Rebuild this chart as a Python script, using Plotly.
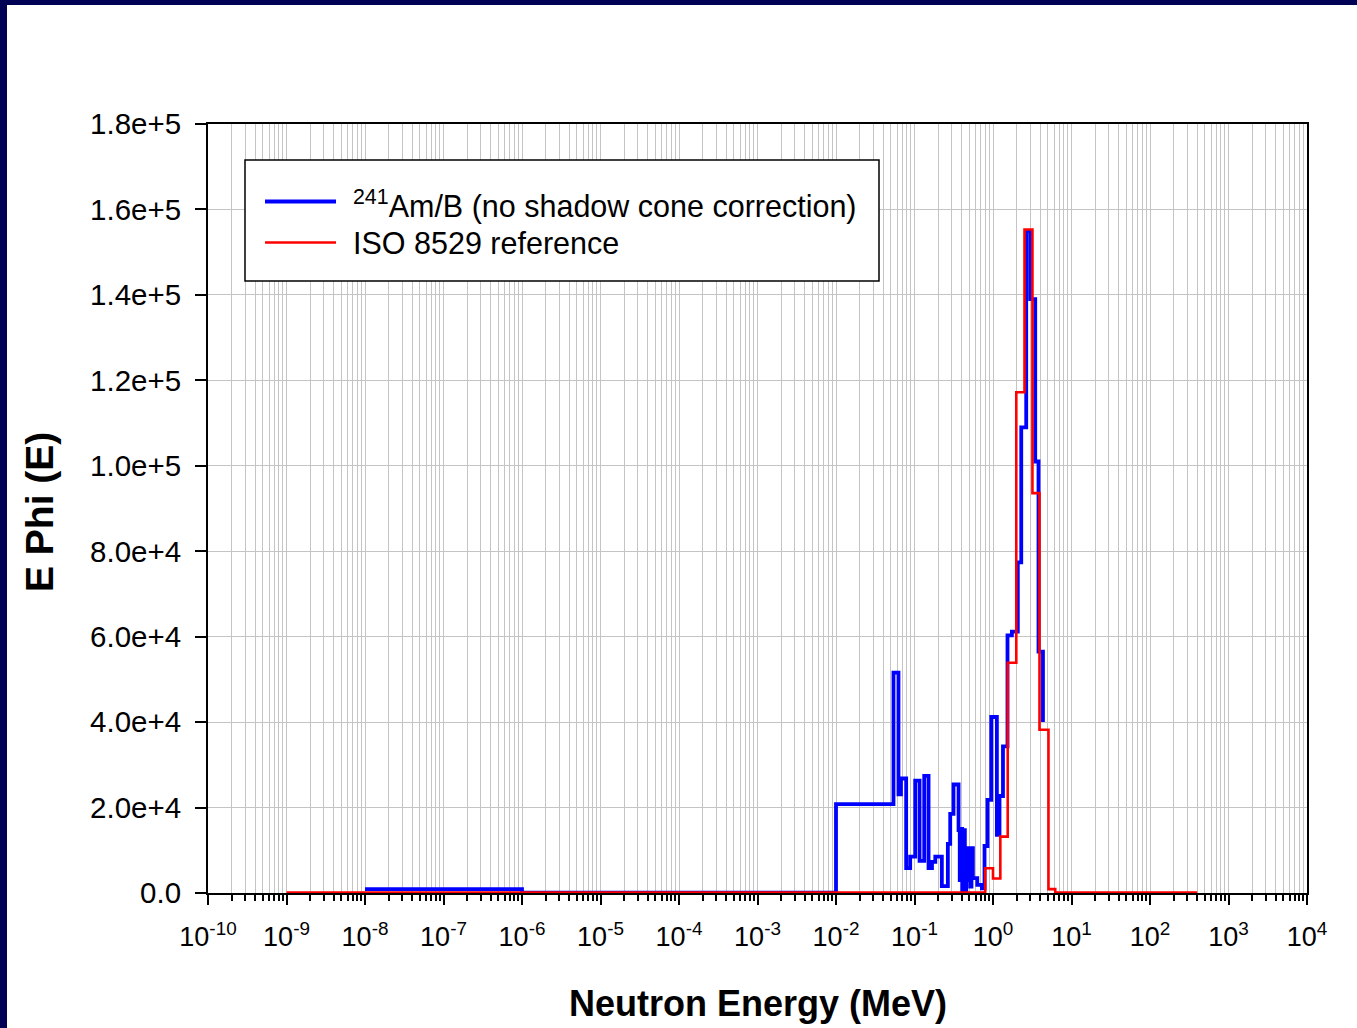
import plotly.graph_objects as go

# ---------------- data ----------------
# 241Am/B spectrum: bin lower edges (MeV) and E*Phi(E) values (hv steps)
blue_energy = [1e-8, 1e-6, 1e-2, 0.0540, 0.0625, 0.0672, 0.0783, 0.0881, 0.102,
               0.116, 0.133, 0.151, 0.167, 0.184, 0.223, 0.266, 0.285, 0.314,
               0.364, 0.377, 0.390, 0.405, 0.421, 0.438, 0.456, 0.473, 0.493,
               0.513, 0.532, 0.554, 0.630, 0.723, 0.780, 0.851, 0.950, 1.12,
               1.21, 1.34, 1.53, 1.74, 2.07, 2.29, 2.65, 2.98, 3.45, 3.80, 4.33]
blue_ephi = [900, 100, 20800, 51600, 23100, 26800, 5800, 8500, 26300,
             7500, 27400, 5800, 7300, 8500, 1600, 11500, 18500, 25400,
             14700, 3000, 15000, 500, 14700, 300, 10500, 3000, 10500,
             1500, 10500, 3500, 1900, 1100, 11000, 21800, 41200, 13600,
             22700, 34300, 60300, 61200, 77400, 109000, 155000, 139000, 101000, 56500, 40000]

# ISO 8529 reference spectrum
red_energy = [1e-9, 0.796, 1.00, 1.24, 1.54, 1.98, 2.52, 3.18, 3.91, 5.09, 6.21, 400]
red_ephi = [100, 5800, 3400, 13200, 53900, 117200, 155300, 93600, 38200, 900, 100, 100]

x_exponents = list(range(-10, 5))
y_ticks = [0, 20000, 40000, 60000, 80000, 100000, 120000, 140000, 160000, 180000]
y_ticktext = ["0.0", "2.0e+4", "4.0e+4", "6.0e+4", "8.0e+4", "1.0e+5",
              "1.2e+5", "1.4e+5", "1.6e+5", "1.8e+5"]

legend_names = ["<sup>241</sup>Am/B (no shadow cone correction)", "ISO 8529 reference"]

# ---------------- layout geometry ----------------
W, H = 1357, 1028
L, R, T, B = 208, 50, 124, 135
PW, PH = W - L - R, H - T - B
FONT = "Liberation Sans, Arial, sans-serif"
BLUE, RED = "#0000ff", "#ff0000"
GRID = "#c4c4c4"


def fx(px):
    return (px - L) / PW


def fy(py):
    return (H - B - py) / PH


fig = go.Figure()
fig.add_trace(go.Scatter(x=blue_energy, y=blue_ephi, mode="lines", line_shape="hv",
                         line=dict(color=BLUE, width=3.8), name=legend_names[0],
                         showlegend=False))
fig.add_trace(go.Scatter(x=red_energy, y=red_ephi, mode="lines", line_shape="hv",
                         line=dict(color=RED, width=2.6), name=legend_names[1],
                         showlegend=False))

minor_vals = [m * 10.0 ** d for d in range(-10, 4) for m in range(2, 10)]

fig.update_xaxes(
    type="log", range=[-10, 4],
    tickmode="array", tickvals=[10.0 ** k for k in x_exponents],
    ticktext=[f"10<sup>{k}</sup>" for k in x_exponents],
    tickfont=dict(family=FONT, size=27, color="black"),
    ticks="outside", ticklen=10, tickwidth=2, tickcolor="black",
    ticklabelstandoff=9,
    showline=True, linecolor="black", linewidth=2, mirror=True,
    showgrid=True, gridcolor=GRID, gridwidth=1.4,
    minor=dict(tickmode="array", tickvals=minor_vals, ticks="outside", ticklen=6,
               tickwidth=1.5, tickcolor="black", showgrid=True, gridcolor=GRID,
               gridwidth=1.4),
    zeroline=False, layer="below traces",
)
fig.update_yaxes(
    range=[0, 180000], tickmode="array", tickvals=y_ticks, ticktext=y_ticktext,
    tickfont=dict(family=FONT, size=29.5, color="black"),
    ticks="outside", ticklen=11, tickwidth=2, tickcolor="black",
    ticklabelstandoff=8,
    showline=True, linecolor="black", linewidth=2, mirror=True,
    showgrid=True, gridcolor=GRID, gridwidth=1.4,
    zeroline=False, layer="below traces",
)

shapes = [
    # slide border (navy)
    dict(type="rect", xref="paper", yref="paper", x0=fx(0), x1=fx(7), y0=fy(H), y1=fy(0),
         fillcolor="#000055", line=dict(width=0)),
    dict(type="rect", xref="paper", yref="paper", x0=fx(0), x1=fx(W), y0=fy(5), y1=fy(0),
         fillcolor="#000055", line=dict(width=0)),
    # legend box
    dict(type="rect", xref="paper", yref="paper", x0=fx(245), x1=fx(879), y0=fy(281), y1=fy(160),
         fillcolor="white", line=dict(color="black", width=1.5), layer="above"),
    dict(type="line", xref="paper", yref="paper", x0=fx(265), x1=fx(336), y0=fy(201.5), y1=fy(201.5),
         line=dict(color=BLUE, width=4), layer="above"),
    dict(type="line", xref="paper", yref="paper", x0=fx(265), x1=fx(336), y0=fy(242.5), y1=fy(242.5),
         line=dict(color=RED, width=2.5), layer="above"),
]

annotations = [
    dict(text=legend_names[0], xref="paper", yref="paper", x=fx(351), y=fy(204),
         xanchor="left", yanchor="middle", showarrow=False,
         font=dict(family=FONT, size=30.5, color="black")),
    dict(text=legend_names[1], xref="paper", yref="paper", x=fx(351), y=fy(243),
         xanchor="left", yanchor="middle", showarrow=False,
         font=dict(family=FONT, size=30.5, color="black")),
    dict(text="<b>Neutron Energy (MeV)</b>", xref="paper", yref="paper",
         x=fx(758), y=fy(1003), xanchor="center", yanchor="middle", showarrow=False,
         font=dict(family=FONT, size=36, color="black")),
    dict(text="<b>E Phi (E)</b>", xref="paper", yref="paper",
         x=fx(39), y=fy(512), xanchor="center", yanchor="middle", showarrow=False,
         textangle=-90, font=dict(family=FONT, size=39, color="black")),
]

fig.update_layout(
    width=W, height=H, margin=dict(l=L, r=R, t=T, b=B, pad=0),
    paper_bgcolor="white", plot_bgcolor="white",
    shapes=shapes, annotations=annotations, showlegend=False,
    font=dict(family=FONT, color="black"),
)

fig.write_html("out.html")
